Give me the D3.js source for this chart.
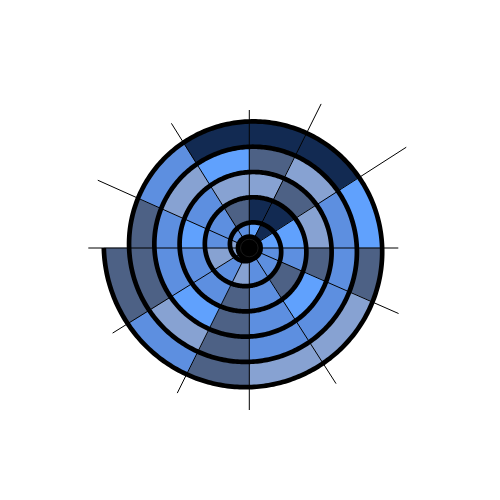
<!DOCTYPE html>
<html>
<head>
<meta charset="utf-8">
<script src="https://cdn.jsdelivr.net/npm/d3@7"></script>
<style>
  html, body { margin: 0; padding: 0; background: #ffffff; }
  svg { display: block; }
</style>
</head>
<body>
<svg id="chart" width="500" height="500"></svg>
<script>
// Segment boundaries around one coil (degrees, clockwise from 12 o'clock)
const segmentBounds = [0, 26.5, 57.3, 90, 113.7, 147.4, 180, 206.4, 238.1, 270, 294.1, 328, 360];
// Spoke lengths at each boundary (one per boundary, 0..328)
const spokeLengths = [138, 161, 186.5, 149, 163, 161, 162, 162, 161, 161, 166, 147];
// Value level per cell, coil by coil (innermost first); 1 = darkest .. 5 = lightest
const coil0 = [4, 4, 4, 4, 4, 4, 4, 4, 3, 3, 4, 4];
const coil1 = [5, 1, 5, 4, 4, 4, 3, 4, 3, 4, 4, 2];
const coil2 = [1, 1, 5, 4, 2, 4, 2, 4, 4, 5, 4, 3];
const coil3 = [3, 2, 3, 2, 5, 4, 2, 5, 4, 4, 3, 5];
const coil4 = [2, 3, 4, 4, 4, 4, 2, 3, 2, 2, 4, 1];
const coil5 = [1, 1, 5, 2, 3, 3, 2, 4, 2];
const coils = [coil0, coil1, coil2, coil3, coil4, coil5];
const levels = [1, 2, 3, 4, 5];
const levelColors = ["#122a52", "#4d6185", "#87a2d2", "#5d8fe0", "#60a1fd"];

const W = 500, H = 500;
const cx = 249.3, cy = 248;
const pitch = 25.3;

const svg = d3.select("#chart");
const g = svg.append("g").attr("transform", `translate(${cx},${cy})`);

// cumulative angle (deg) -> radius (Archimedean spiral)
const rScale = d3.scaleLinear().domain([0, 360]).range([0, pitch]);
const color = d3.scaleOrdinal().domain(levels).range(levelColors);
const rad = d => d * Math.PI / 180;

// cells
const cells = [];
coils.forEach((vals, t) => {
  vals.forEach((v, s) => {
    cells.push({ t, s, v, a0: segmentBounds[s], a1: segmentBounds[s + 1] });
  });
});

g.append("g").selectAll("path").data(cells).join("path")
  .attr("d", c => {
    const pts = d3.range(c.a0, c.a1, 0.5).concat([c.a1]);
    return d3.areaRadial()
      .angle(a => rad(a))
      .innerRadius(a => Math.max(0, rScale(360 * (c.t - 1) + a)))
      .outerRadius(a => Math.max(0, rScale(360 * c.t + a)))(pts);
  })
  .attr("fill", c => color(c.v))
  .attr("stroke", c => color(c.v))
  .attr("stroke-width", 0.6);

// spokes
const spokes = segmentBounds.slice(0, -1).map((a, i) => ({ a, len: spokeLengths[i] }));
g.append("g").selectAll("path").data(spokes).join("path")
  .attr("d", sp => d3.lineRadial().angle(rad(sp.a)).radius(r => r)([0, sp.len]))
  .attr("fill", "none")
  .attr("stroke", "#000")
  .attr("stroke-width", 1);

// spiral outline
const totalAngle = 360 * (coils.length - 1) + segmentBounds[coil5.length];
const spiralPts = d3.range(0, totalAngle, 1).concat([totalAngle]);
g.append("path")
  .attr("d", d3.lineRadial().angle(a => rad(a)).radius(a => rScale(a))(spiralPts))
  .attr("fill", "none")
  .attr("stroke", "#000")
  .attr("stroke-width", 4.7)
  .attr("stroke-linejoin", "round");

// dark hub where the spiral curls up
g.append("circle")
  .attr("r", rScale(195))
  .attr("fill", "#000");
g.append("circle")
  .attr("r", rScale(125))
  .attr("fill", "none")
  .attr("stroke", "#2a2a2a")
  .attr("stroke-width", 0.6);
</script>
</body>
</html>
